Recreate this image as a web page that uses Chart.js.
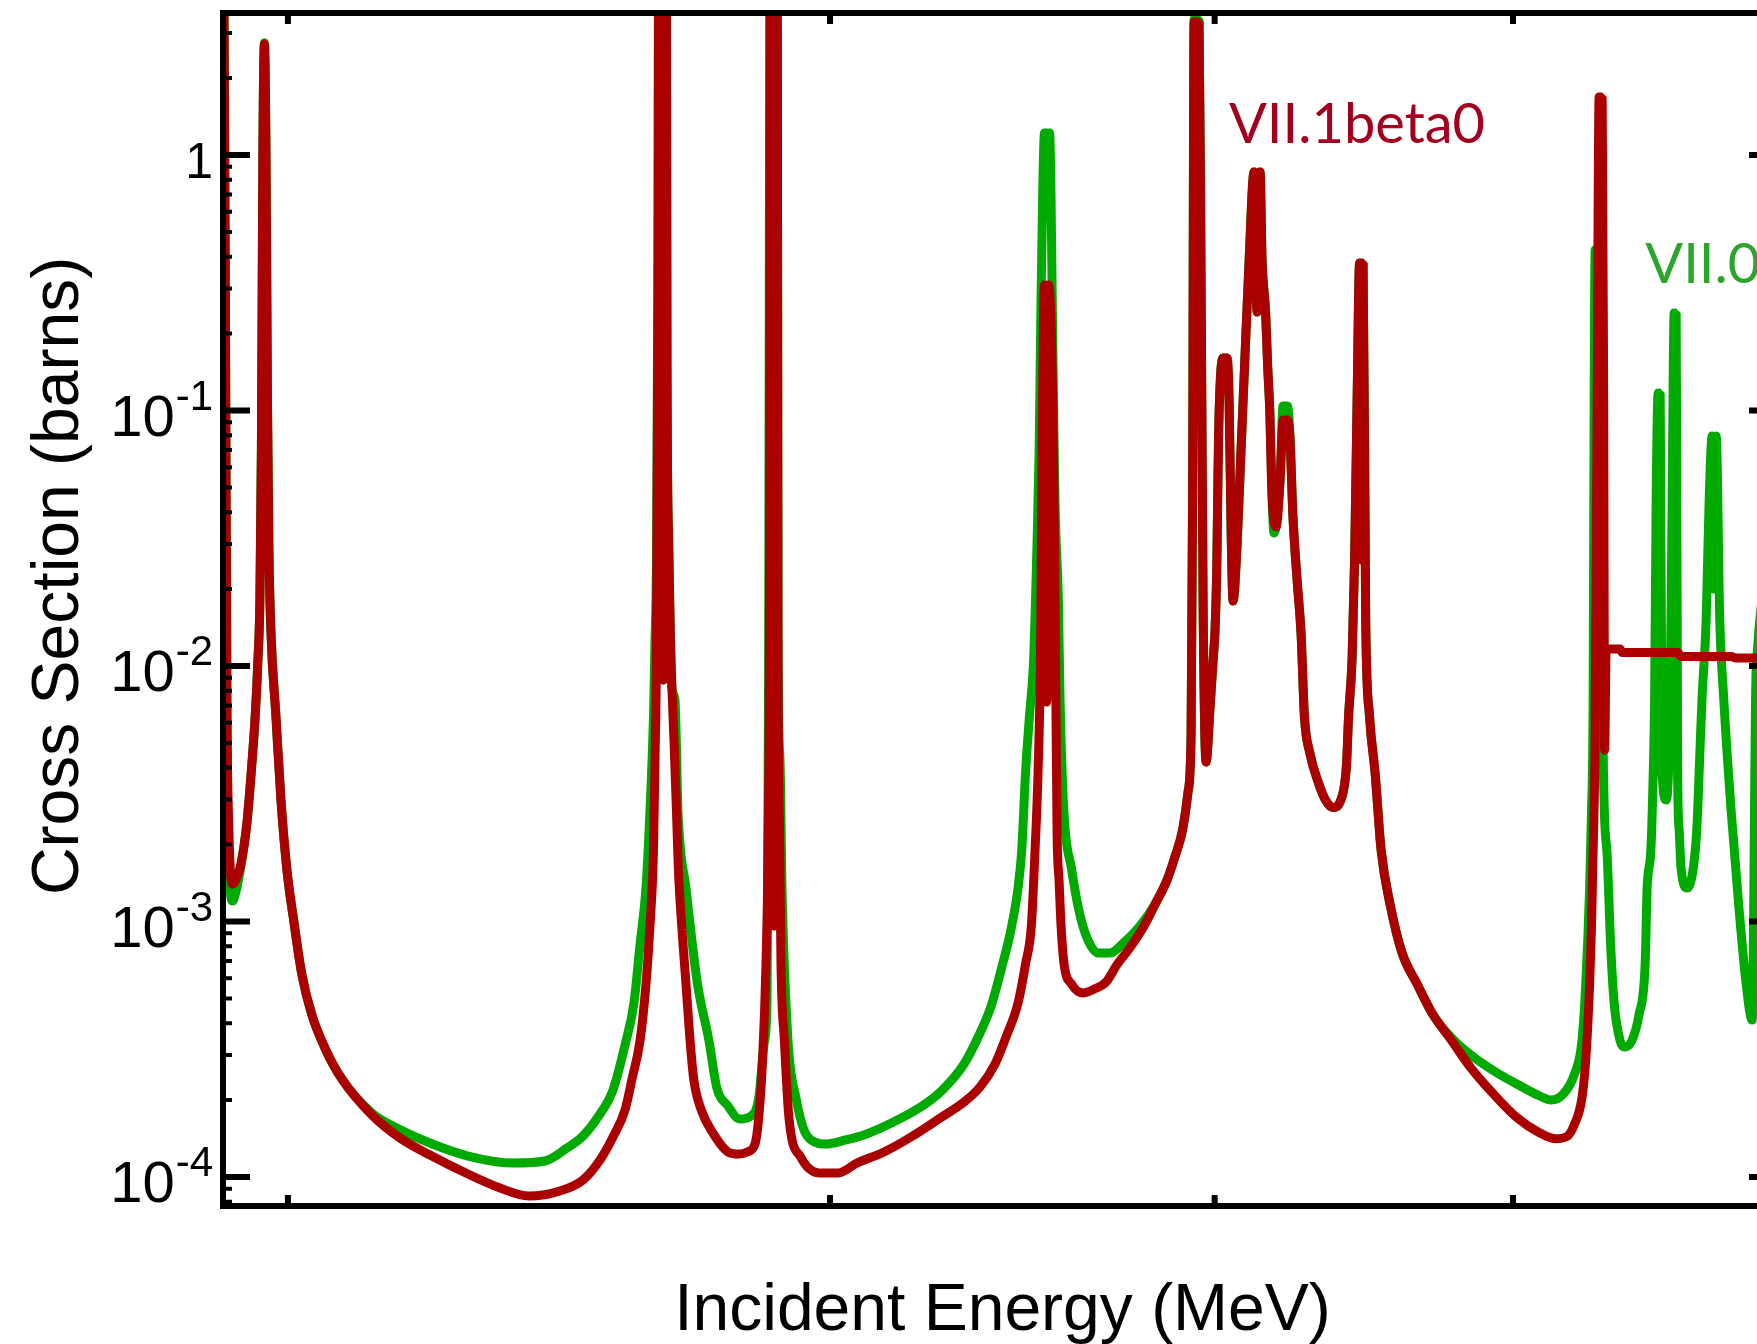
<!DOCTYPE html>
<html>
<head>
<meta charset="utf-8">
<script src="https://cdn.jsdelivr.net/npm/chart.js@4.4.1/dist/chart.umd.min.js"></script>
<style>
html, body { margin: 0; padding: 0; background: #fff; overflow: hidden; }
canvas { display: block; }
</style>
</head>
<body>
<canvas id="canvas" width="1800" height="1344"></canvas>
<script>
// incident energy (MeV) / cross section (barns)

var energyVII1 = [
    1.9051, 1.9086, 1.9108, 1.9136, 1.9187, 1.9237, 1.9309, 1.9396, 1.9461, 1.9520,
    1.9556, 1.9585, 1.9607, 1.9629, 1.9651, 1.9674, 1.9696, 1.9718, 1.9747, 1.9821,
    1.9896, 1.9985, 2.0090, 2.0211, 2.0362, 2.0561, 2.0824, 2.1297, 2.1748, 2.2241,
    2.2883, 2.3437, 2.3951, 2.4513, 2.4939, 2.5258, 2.5505, 2.5735, 2.5870, 2.6025,
    2.6142, 2.6220, 2.6289, 2.6319, 2.6348, 2.6378, 2.6397, 2.6477, 2.6536, 2.6556,
    2.6590, 2.6622, 2.6655, 2.6695, 2.6745, 2.6783, 2.6856, 2.6936, 2.7017, 2.7092,
    2.7246, 2.7482, 2.7796, 2.8038, 2.8198, 2.8363, 2.8442, 2.8523, 2.8597, 2.8640,
    2.8672, 2.8694, 2.8769, 2.8834, 2.8855, 2.8888, 2.8920, 2.8994, 2.9078, 2.9159,
    2.9334, 2.9497, 2.9754, 3.0180, 3.0612, 3.1236, 3.1874, 3.2597, 3.3163, 3.3562,
    3.3941, 3.4221, 3.4530, 3.4724, 3.4875, 3.4972, 3.5050, 3.5116, 3.5155, 3.5221,
    3.5277, 3.5332, 3.5433, 3.5472, 3.5499, 3.5526, 3.5552, 3.5605, 3.5659, 3.5739,
    3.5940, 3.6250, 3.6561, 3.6879, 3.7195, 3.7519, 3.7943, 3.8276, 3.8601, 3.8827,
    3.9051, 3.9212, 3.9301, 3.9345, 3.9389, 3.9536, 3.9596, 3.9655, 3.9744, 3.9863,
    3.9953, 4.0013, 4.0063, 4.0117, 4.0253, 4.0373, 4.0434, 4.0494, 4.0555, 4.0667,
    4.0768, 4.0905, 4.1034, 4.1197, 4.1290, 4.1382, 4.1444, 4.1553, 4.1618, 4.1684,
    4.1749, 4.1881, 4.2006, 4.2101, 4.2243, 4.2322, 4.2407, 4.2544, 4.2671, 4.2777,
    4.2960, 4.3208, 4.3457, 4.3705, 4.3958, 4.4145, 4.4215, 4.4331, 4.4414, 4.4497,
    4.4580, 4.4640, 4.4697, 4.4784, 4.4912, 4.5100, 4.5303, 4.5626, 4.6020, 4.6540,
    4.7082, 4.7764, 4.8451, 4.9292, 5.0143, 5.1014, 5.1601, 5.2047, 5.2340, 5.2646,
    5.2796, 5.2950, 5.3025, 5.3089, 5.3168, 5.3248, 5.3328, 5.3448, 5.3508, 5.3548,
    5.3608, 5.4172, 5.4253, 5.6553, 5.6701, 5.8862, 5.9039, 6.1060
];
var xsVII1 = [
    25, 0.2707, 0.00736, 0.002281, 0.001402, 0.001454, 0.001679, 0.002429, 0.003917, 0.006607,
    0.01055, 0.01813, 0.07005, 1.046, 2.719, 1.046, 0.1099, 0.02818, 0.01371, 0.006373,
    0.002989, 0.001591, 0.0009955, 0.0006175, 0.0004305, 0.0003198, 0.0002418, 0.0001748, 0.0001421, 0.0001219,
    0.0001027, 0.00009056, 0.00008425, 0.00008815, 0.00009733, 0.0001165, 0.0001434, 0.0001829, 0.0002418, 0.0003407,
    0.0005693, 0.0009603, 0.001905, 0.004286, 0.01155, 0.2707, 25, 0.008817, 25, 0.1535,
    0.02949, 0.01334, 0.008128, 0.005133, 0.002707, 0.001605, 0.0009264, 0.0005693, 0.0003438, 0.0002418,
    0.0001829, 0.0001487, 0.0001253, 0.0001230, 0.0001253, 0.0001346, 0.0001709, 0.0002871, 0.0006819, 0.001905,
    0.01813, 25, 0.0009603, 25, 0.01264, 0.002281, 0.0006819, 0.0003407, 0.0001829, 0.0001396,
    0.0001208, 0.0001094, 0.0001037, 0.0001037, 0.0001134, 0.0001253, 0.0001434, 0.0001709, 0.0001965, 0.0002250,
    0.0002768, 0.0003532, 0.0004798, 0.0006819, 0.0009603, 0.001905, 0.003813, 0.01155, 0.07005, 0.3098,
    0.007226, 0.3098, 0.1203, 0.04267, 0.01813, 0.006145, 0.002281, 0.001454, 0.0009603, 0.0006819,
    0.0005693, 0.0005251, 0.0005441, 0.0005796, 0.0006819, 0.0007806, 0.0009603, 0.001181, 0.001454, 0.001788,
    0.002281, 0.003212, 0.005370, 0.04464, 3.316, 3.316, 0.3241, 0.01813, 0.004209, 0.006909,
    0.01046, 0.01396, 0.02396, 0.07948, 0.1605, 0.1605, 0.1099, 0.03468, 0.01796, 0.02818,
    0.05691, 0.1493, 0.3611, 0.8579, 0.2429, 0.8579, 0.3882, 0.2429, 0.1493, 0.09955,
    0.04841, 0.03499, 0.05345, 0.09179, 0.09179, 0.07666, 0.03971, 0.02171, 0.01334, 0.006373,
    0.004524, 0.003548, 0.002989, 0.002794, 0.002989, 0.004097, 0.006373, 0.01075, 0.02599, 0.1099,
    0.3778, 0.02599, 0.3778, 0.01514, 0.006373, 0.003813, 0.001905, 0.001140, 0.0007529, 0.0005693,
    0.0004344, 0.0003407, 0.0002670, 0.0002103, 0.0001709, 0.0001487, 0.0001413, 0.0001439, 0.0001597, 0.0002038,
    0.0002871, 0.0005693, 0.0009603, 0.001905, 0.005370, 0.1099, 1.6866, 1.6866, 0.1099, 0.004691,
    0.01166, 0.01166, 0.01129, 0.01129, 0.01090, 0.01090, 0.01075, 0.01075
];

var energyVII0 = [
    1.9051, 1.9086, 1.9108, 1.9144, 1.9187, 1.9237, 1.9309, 1.9396, 1.9461, 1.9520,
    1.9556, 1.9585, 1.9607, 1.9629, 1.9651, 1.9674, 1.9696, 1.9718, 1.9747, 1.9821,
    1.9896, 1.9985, 2.0090, 2.0211, 2.0362, 2.0561, 2.0824, 2.1297, 2.1602, 2.2241,
    2.2883, 2.3684, 2.4240, 2.4642, 2.4939, 2.5220, 2.5505, 2.5735, 2.5908, 2.6025,
    2.6142, 2.6220, 2.6289, 2.6319, 2.6348, 2.6378, 2.6397, 2.6477, 2.6536, 2.6556,
    2.6590, 2.6622, 2.6655, 2.6715, 2.6775, 2.6936, 2.7169, 2.7404, 2.7560, 2.7796,
    2.8038, 2.8278, 2.8442, 2.8565, 2.8619, 2.8651, 2.8694, 2.8769, 2.8834, 2.8855,
    2.8898, 2.8942, 2.9072, 2.9246, 2.9413, 2.9576, 2.9921, 3.0354, 3.0791, 3.1504,
    3.2142, 3.2607, 3.3163, 3.3562, 3.3839, 3.4134, 3.4324, 3.4530, 3.4626, 3.4724,
    3.4826, 3.4927, 3.4972, 3.5016, 3.5077, 3.5129, 3.5221, 3.5353, 3.5454, 3.5499,
    3.5587, 3.5632, 3.5733, 3.5940, 3.6142, 3.6354, 3.6659, 3.6982, 3.7407, 3.7731,
    3.8057, 3.8276, 3.8601, 3.8827, 3.9051, 3.9212, 3.9301, 3.9345, 3.9389, 3.9536,
    3.9596, 3.9655, 3.9744, 3.9863, 3.9953, 4.0013, 4.0063, 4.0117, 4.0253, 4.0373,
    4.0434, 4.0494, 4.0555, 4.0667, 4.0768, 4.0905, 4.1034, 4.1197, 4.1290, 4.1382,
    4.1444, 4.1553, 4.1618, 4.1684, 4.1749, 4.1818, 4.2006, 4.2101, 4.2243, 4.2322,
    4.2407, 4.2544, 4.2671, 4.2777, 4.2960, 4.3208, 4.3457, 4.3705, 4.3958, 4.4145,
    4.4215, 4.4331, 4.4414, 4.4497, 4.4580, 4.4640, 4.4697, 4.4784, 4.4912, 4.5100,
    4.5303, 4.5626, 4.6020, 4.6540, 4.7082, 4.7764, 4.8451, 4.9292, 5.0143, 5.1014,
    5.1447, 5.1899, 5.2340, 5.2646, 5.2796, 5.2950, 5.3025, 5.3089, 5.3129, 5.3168,
    5.3368, 5.3448, 5.3488, 5.3636, 5.3788, 5.3930, 5.4172, 5.4334, 5.4644, 5.4948,
    5.5195, 5.5277, 5.5431, 5.5509, 5.5588, 5.5651, 5.5734, 5.5818, 5.5901, 5.6069,
    5.6237, 5.6321, 5.6405, 5.6490, 5.6553, 5.6617, 5.6701, 5.6957, 5.7213, 5.7367,
    5.7530, 5.7599, 5.7772, 5.7902, 5.8032, 5.8119, 5.8206, 5.8363, 5.8529, 5.8862,
    5.9202, 5.9527, 5.9794, 5.9974, 6.0833
];
var xsVII0 = [
    25, 0.2707, 0.006145, 0.001591, 0.001203, 0.001305, 0.001649, 0.002429, 0.003917, 0.006607,
    0.01055, 0.01813, 0.07005, 1.046, 2.75, 1.046, 0.1099, 0.02818, 0.01371, 0.006373,
    0.002989, 0.001591, 0.0009955, 0.0006175, 0.0004305, 0.0003198, 0.0002418, 0.0001780, 0.0001597, 0.0001358,
    0.0001208, 0.0001134, 0.0001155, 0.0001298, 0.0001447, 0.0001717, 0.0002190, 0.0003285, 0.0004798, 0.0008094,
    0.001352, 0.002707, 0.006373, 0.01264, 0.02599, 0.4249, 25, 0.008817, 25, 0.1535,
    0.02949, 0.01334, 0.008128, 0.00736, 0.002707, 0.001352, 0.0005693, 0.0003407, 0.0002250, 0.0001896,
    0.0001687, 0.0001733, 0.0002038, 0.0003407, 0.0004929, 0.00736, 25, 0.0009603, 25, 0.01264,
    0.004286, 0.001352, 0.0003407, 0.0002038, 0.0001541, 0.0001396, 0.0001346, 0.0001396, 0.0001464, 0.0001656,
    0.0001896, 0.0002171, 0.0002768, 0.0003661, 0.0004650, 0.0006819, 0.0008935, 0.001352, 0.001905, 0.003813,
    0.006373, 0.01, 0.01555, 0.02719, 0.06757, 0.2707, 1.219, 1.219, 0.1203, 0.04267,
    0.01813, 0.00736, 0.002707, 0.001605, 0.001099, 0.0008651, 0.0007529, 0.0007529, 0.0008352, 0.0009264,
    0.001060, 0.001181, 0.001454, 0.001788, 0.002281, 0.003212, 0.005370, 0.04464, 3.40, 3.40,
    0.3241, 0.01813, 0.004209, 0.006909, 0.01046, 0.01396, 0.02396, 0.07948, 0.1605, 0.1605,
    0.1099, 0.03468, 0.01796, 0.02818, 0.05691, 0.1493, 0.3611, 0.8579, 0.2429, 0.8579,
    0.3882, 0.2429, 0.1493, 0.09955, 0.04841, 0.03315, 0.05345, 0.1041, 0.1041, 0.07666,
    0.03971, 0.02171, 0.01334, 0.006373, 0.004524, 0.003548, 0.002989, 0.002794, 0.002989, 0.004097,
    0.006373, 0.01075, 0.02599, 0.1099, 0.3778, 0.02599, 0.3778, 0.01514, 0.006373, 0.003813,
    0.001905, 0.001140, 0.0007529, 0.0005693, 0.0004344, 0.0003500, 0.0003002, 0.0002600, 0.0002312, 0.0002075,
    0.0002001, 0.0002103, 0.0002507, 0.0003407, 0.0005693, 0.001352, 0.002707, 0.007561, 0.1099, 0.4249,
    0.4249, 0.04464, 0.004691, 0.001905, 0.0008094, 0.0004798, 0.0003407, 0.0003227, 0.0003407, 0.0004344,
    0.0006819, 0.001352, 0.001905, 0.003212, 0.007630, 0.04464, 0.1171, 0.1171, 0.003813, 0.002989,
    0.00736, 0.04464, 0.2407, 0.2407, 0.003813, 0.002281, 0.001605, 0.001352, 0.001605, 0.002281,
    0.005370, 0.007630, 0.01514, 0.04464, 0.07948, 0.02001, 0.07948, 0.01514, 0.007630, 0.002707,
    0.001140, 0.0005693, 0.0004115, 0.009646, 0.02599
];

var xTickValues = [2, 3, 4, 5];
var yTickValues = [1, 0.1, 0.01, 0.001, 0.0001];
var yTickBases = ['1', '10', '10', '10', '10'];
var yTickPowers = ['', '-1', '-2', '-3', '-4'];

var seriesNames = ['VII.1beta0', 'VII.0'];
// where each name starts (energy, cross section of the text baseline)
var nameAnchors = [[4.043, 1.114], [5.52, 0.3155]];

var lineRed = '#aa0000',
    lineGreen = '#00aa00',
    nameColors = ['#a3001f', '#2ba52b'];

function toPoints(ex, ys) {
    return ex.map(function (e, i) { return {x: e, y: ys[i]} });
}

var axisFont = "'Liberation Sans', Arial, Helvetica, sans-serif";

var framePlugin = {
    id: 'frame',
    afterDatasetsDraw: function (chart) {
        var ctx = chart.ctx,
            area = chart.chartArea,
            xs = chart.scales.x,
            ys = chart.scales.y;
        ctx.save();
        ctx.strokeStyle = '#000';
        ctx.lineCap = 'butt';

        // minor ticks on the log y axis
        ctx.lineWidth = 4;
        ctx.beginPath();
        for (var k = -5; k <= 0; k++) {
            for (var m = 2; m <= 9; m++) {
                var v = m * Math.pow(10, k);
                if (v <= ys.min || v >= ys.max) continue;
                var py = ys.getPixelForValue(v);
                ctx.moveTo(area.left, py); ctx.lineTo(area.left + 9, py);
                ctx.moveTo(area.right, py); ctx.lineTo(area.right - 9, py);
            }
        }
        ctx.stroke();

        // major ticks, pointing inwards
        ctx.lineWidth = 6;
        ctx.beginPath();
        yTickValues.forEach(function (v) {
            var py = ys.getPixelForValue(v);
            ctx.moveTo(area.left, py); ctx.lineTo(area.left + 27, py);
            ctx.moveTo(area.right, py); ctx.lineTo(area.right - 27, py);
        });
        xTickValues.forEach(function (v) {
            var px = xs.getPixelForValue(v);
            ctx.moveTo(px, area.bottom); ctx.lineTo(px, area.bottom - 11);
            ctx.moveTo(px, area.top); ctx.lineTo(px, area.top + 11);
        });
        ctx.stroke();

        ctx.lineWidth = 6;
        ctx.strokeRect(area.left, area.top, area.right - area.left, area.bottom - area.top);

        // y tick labels 1, 10^-1 ...
        ctx.fillStyle = '#000';
        ctx.textBaseline = 'alphabetic';
        ctx.textAlign = 'right';
        var labelRight = area.left - 10;
        yTickValues.forEach(function (v, i) {
            var py = ys.getPixelForValue(v);
            if (yTickPowers[i] === '') {
                ctx.font = '50px ' + axisFont;
                ctx.fillText(yTickBases[i], labelRight, py + 23);
            } else {
                ctx.font = '42px ' + axisFont;
                ctx.fillText(yTickPowers[i], labelRight, py - 1);
                var w = ctx.measureText(yTickPowers[i]).width;
                ctx.font = '58px ' + axisFont;
                ctx.fillText(yTickBases[i], labelRight - w - 1, py + 25);
            }
        });

        // axis titles
        ctx.font = '66px ' + axisFont;
        ctx.textAlign = 'center';
        ctx.fillText('Incident Energy (MeV)', (area.left + area.right) / 2 + 3, 1330);
        ctx.save();
        ctx.translate(78, 576);
        ctx.rotate(-Math.PI / 2);
        ctx.fillText('Cross Section (barns)', 0, 0);
        ctx.restore();

        // curve names
        ctx.textAlign = 'left';
        ctx.font = '58px Lato, sans-serif';
        var size = 58 * 256 / ctx.measureText(seriesNames[0]).width;
        ctx.font = size.toFixed(1) + 'px Lato, sans-serif';
        seriesNames.forEach(function (name, i) {
            ctx.fillStyle = nameColors[i];
            ctx.fillText(name, xs.getPixelForValue(nameAnchors[i][0]), ys.getPixelForValue(nameAnchors[i][1]));
        });
        ctx.restore();
    }
};

var ctx = document.getElementById('canvas').getContext('2d');
new Chart(ctx, {
    type: 'line',
    data: {
        datasets: [
            {
                label: seriesNames[0],
                data: toPoints(energyVII1, xsVII1),
                borderColor: lineRed,
                order: 0
            },
            {
                label: seriesNames[1],
                data: toPoints(energyVII0, xsVII0),
                borderColor: lineGreen,
                order: 1
            }
        ]
    },
    options: {
        responsive: false,
        animation: false,
        devicePixelRatio: 1,
        layout: {padding: {left: 223, top: 13, right: 24, bottom: 138}},
        datasets: {line: {clip: 0}},
        elements: {
            line: {borderWidth: 9, cubicInterpolationMode: 'monotone', borderJoinStyle: 'bevel', borderCapStyle: 'butt', fill: false},
            point: {radius: 0, hoverRadius: 0}
        },
        scales: {
            x: {type: 'logarithmic', min: 1.9052, max: 6.087, bounds: 'data', display: false},
            y: {type: 'logarithmic', min: 7.7e-5, max: 3.596, bounds: 'data', display: false}
        },
        plugins: {
            legend: {display: false},
            tooltip: {enabled: false}
        }
    },
    plugins: [framePlugin]
});
</script>
</body>
</html>
